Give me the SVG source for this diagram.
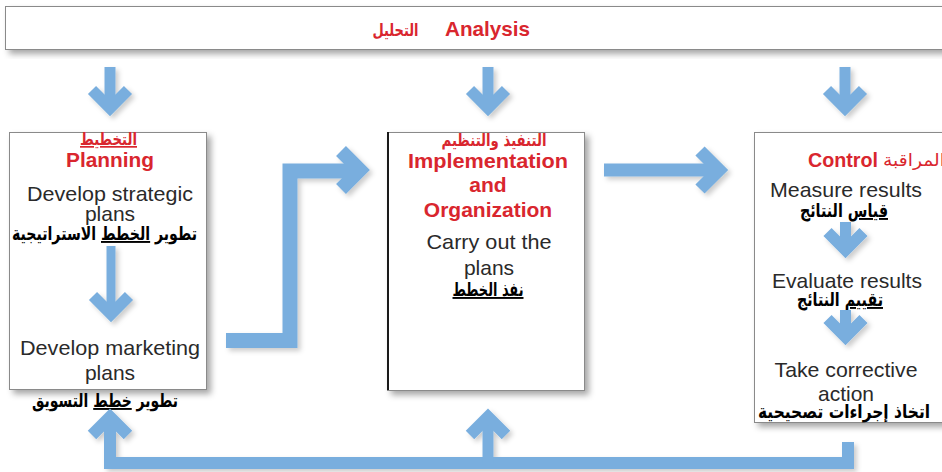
<svg xmlns="http://www.w3.org/2000/svg" width="942" height="472" viewBox="0 0 942 472">
<defs>
<filter id="sh" x="-10%" y="-10%" width="130%" height="130%">
<feDropShadow dx="4" dy="4" stdDeviation="3" flood-color="#000" flood-opacity="0.35"/>
</filter>
<filter id="ash" x="-20%" y="-20%" width="150%" height="150%">
<feDropShadow dx="3" dy="3" stdDeviation="2.5" flood-color="#000" flood-opacity="0.2"/>
</filter>
</defs>
<style>
.box{fill:#fff;stroke:#8a8a8a;stroke-width:1;filter:url(#sh)}
.en{font-family:"Liberation Sans",Arial,sans-serif;font-size:21px;fill:#2a2a2a;text-anchor:middle}
.ti{font-family:"Liberation Sans",Arial,sans-serif;font-size:21px;font-weight:bold;fill:#d9262e;text-anchor:middle}
.ar{font-family:"DejaVu Sans",sans-serif;font-size:19px;font-weight:bold;fill:#000;text-anchor:middle}
.arr{font-family:"DejaVu Sans",sans-serif;font-size:17px;fill:#d9262e;text-anchor:middle}
.u{text-decoration:underline}
.a{fill:none;stroke:#79aede;stroke-linejoin:miter;stroke-linecap:butt;stroke-miterlimit:10}
</style>

<g id="analysis">
<rect class="box" x="5.5" y="6.5" width="942" height="43"/>
<text class="arr" x="395.5" y="36" font-size="20" font-weight="bold" textLength="46" lengthAdjust="spacingAndGlyphs">التحليل</text>
<text class="ti" x="445" y="36" font-size="20" style="text-anchor:start" textLength="85" lengthAdjust="spacingAndGlyphs">Analysis</text>
</g>

<g id="planning">
<rect class="box" x="9.5" y="132.5" width="197" height="257"/>
<text class="arr u" x="108.5" y="145" font-size="18" font-weight="bold" textLength="57" lengthAdjust="spacingAndGlyphs">التخطيط</text>
<text class="ti" x="110" y="167" textLength="88" lengthAdjust="spacingAndGlyphs">Planning</text>
<text class="en" x="110" y="201" textLength="166" lengthAdjust="spacingAndGlyphs">Develop strategic</text>
<text class="en" x="110" y="221">plans</text>
<text class="ar" x="104.5" y="240" textLength="185" lengthAdjust="spacingAndGlyphs">تطوير <tspan class="u">الخطط</tspan> الاستراتيجية</text>
<text class="en" x="110" y="355" textLength="180" lengthAdjust="spacingAndGlyphs">Develop marketing</text>
<text class="en" x="110" y="380">plans</text>
<text class="ar" x="105" y="407" textLength="146" lengthAdjust="spacingAndGlyphs">تطوير <tspan class="u">خطط</tspan> التسويق</text>
</g>

<g id="implementation">
<rect class="box" x="387.5" y="132.5" width="197" height="258"/>
<line x1="388" y1="132" x2="388" y2="390" stroke="#1a1a1a" stroke-width="2"/>
<text class="arr" x="494" y="146" font-size="18" font-weight="bold" textLength="105" lengthAdjust="spacingAndGlyphs">التنفيذ والتنظيم</text>
<text class="ti" x="488" y="168" textLength="160" lengthAdjust="spacingAndGlyphs">Implementation</text>
<text class="ti" x="488" y="192">and</text>
<text class="ti" x="488" y="217">Organization</text>
<text class="en" x="489" y="249" textLength="125" lengthAdjust="spacingAndGlyphs">Carry out the</text>
<text class="en" x="489" y="275">plans</text>
<text class="ar u" x="488" y="296" textLength="71" lengthAdjust="spacingAndGlyphs">نفذ الخطط</text>
</g>

<g id="control">
<rect class="box" x="754.5" y="132.5" width="192" height="290"/>
<text class="ti" x="808" y="167" font-size="20" style="text-anchor:start" textLength="70" lengthAdjust="spacingAndGlyphs">Control</text>
<text class="arr" x="883" y="166" font-size="18" style="text-anchor:start" textLength="62" lengthAdjust="spacingAndGlyphs">المراقبة</text>
<text class="en" x="846" y="197" textLength="152" lengthAdjust="spacingAndGlyphs">Measure results</text>
<text class="ar" x="844" y="217" textLength="88" lengthAdjust="spacingAndGlyphs"><tspan class="u">قياس</tspan> النتائج</text>
<text class="en" x="847" y="288" textLength="150" lengthAdjust="spacingAndGlyphs">Evaluate results</text>
<text class="ar" x="840" y="306" textLength="86" lengthAdjust="spacingAndGlyphs"><tspan class="u">تقييم</tspan> النتائج</text>
<text class="en" x="846" y="377" textLength="143" lengthAdjust="spacingAndGlyphs">Take corrective</text>
<text class="en" x="846" y="401">action</text>
<text class="ar" x="844" y="418" textLength="172" lengthAdjust="spacingAndGlyphs">اتخاذ إجراءات تصحيحية</text>
</g>

<g id="connectors" filter="url(#ash)">
<path class="a" stroke-width="11" d="M110,67 V106"/>
<path class="a" stroke-width="11.5" d="M92,90 L110,108 L128,90"/>
<path class="a" stroke-width="11" d="M488,67 V106"/>
<path class="a" stroke-width="11.5" d="M470,90 L488,108 L506,90"/>
<path class="a" stroke-width="11" d="M845,67 V106"/>
<path class="a" stroke-width="11.5" d="M827,90 L845,108 L863,90"/>
<path class="a" stroke-width="9" d="M111,246 V312"/>
<path class="a" stroke-width="11.5" d="M93,296 L111,314 L129,296"/>
<path class="a" stroke-width="15" d="M226,340.5 H290 V171 H358"/>
<path class="a" stroke-width="14" d="M341,151 L360,170 L341,189"/>
<path class="a" stroke-width="13" d="M604,170 H717"/>
<path class="a" stroke-width="13" d="M700,151 L719,170 L700,189"/>
<path class="a" stroke-width="11" d="M845.5,222 V248"/>
<path class="a" stroke-width="11.5" d="M827.5,232 L845.5,250 L863.5,232"/>
<path class="a" stroke-width="11" d="M845.5,310 V335"/>
<path class="a" stroke-width="11.5" d="M827.5,319 L845.5,337 L863.5,319"/>
<path class="a" stroke-width="12" d="M848,442 V463 H110 V419"/>
<path class="a" stroke-width="12" d="M92,435 L110,417 L128,435"/>
<path class="a" stroke-width="11" d="M488,463 V419"/>
<path class="a" stroke-width="12" d="M470,435 L488,417 L506,435"/>
</g>
</svg>
